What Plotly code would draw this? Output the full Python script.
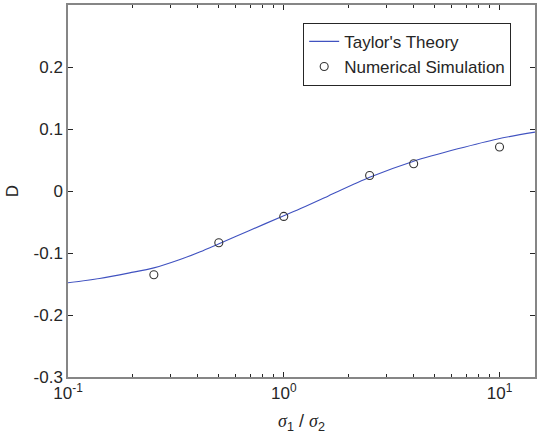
import plotly.graph_objects as go

# Taylor's theory curve
theory_x = [0.1, 0.14, 0.193, 0.25, 0.328, 0.41, 0.501, 0.69, 1.0, 1.17, 1.61, 2.5, 4.0, 6.4, 9.8, 14.6]
theory_y = [-0.148, -0.141, -0.132, -0.124, -0.111, -0.098, -0.085, -0.064, -0.040, -0.030, -0.008, 0.022, 0.048, 0.068, 0.084, 0.095]

# Numerical simulation points
sim_x = [0.25, 0.5, 1.0, 2.5, 4.0, 10.0]
sim_y = [-0.135, -0.0835, -0.041, 0.025, 0.044, 0.071]

x_major = [0.1, 1, 10]
x_major_text = ["10<sup>-1</sup>", "10<sup>0</sup>", "10<sup>1</sup>"]
x_minor = [0.2, 0.3, 0.4, 0.5, 0.6, 0.7, 0.8, 0.9, 2, 3, 4, 5, 6, 7, 8, 9]
y_ticks = [-0.3, -0.2, -0.1, 0, 0.1, 0.2]
y_tick_text = ["-0.3", "-0.2", "-0.1", "0", "0.1", "0.2"]

FONT = "Liberation Sans, Arial, sans-serif"
AX = "#868686"
TXT = "#262626"

sig = "<span style='font-family:Liberation Serif'><i>σ</i></span>"
xlabel = sig + "<sub>1</sub> / " + sig + "<sub>2</sub>"

fig = go.Figure()
fig.add_trace(go.Scatter(
    x=theory_x, y=theory_y, mode="lines", name="Taylor's Theory",
    line=dict(color="#4052c0", width=1.1, shape="spline", smoothing=0.8),
))
fig.add_trace(go.Scatter(
    x=sim_x, y=sim_y, mode="markers", name="Numerical Simulation",
    marker=dict(symbol="circle-open", size=8, color="#333333", line=dict(width=1.1, color="#333333")),
))

fig.update_layout(
    width=538, height=441,
    margin=dict(l=68, r=1, t=5, b=64),
    paper_bgcolor="white", plot_bgcolor="white",
    font=dict(family=FONT, size=17, color=TXT),
    showlegend=True,
    legend=dict(
        x=0.949, y=0.952, xanchor="right", yanchor="top",
        bgcolor="white", bordercolor="#262626", borderwidth=1,
        font=dict(family=FONT, size=17, color=TXT),
        tracegroupgap=0, itemwidth=30,
    ),
    xaxis=dict(
        type="log", range=[-1, 1.1644],
        tickvals=x_major, ticktext=x_major_text,
        ticks="inside", ticklen=5, tickcolor=TXT, tickwidth=1,
        minor=dict(tickvals=x_minor, ticks="inside", ticklen=3, tickcolor=TXT, tickwidth=1),
        showline=True, linecolor=AX, linewidth=1.5, mirror="ticks",
        showgrid=False, zeroline=False,
        tickfont=dict(family=FONT, size=17, color=TXT),
        title=dict(text=xlabel, standoff=12,
                   font=dict(family=FONT, size=18, color=TXT)),
    ),
    yaxis=dict(
        range=[-0.3, 0.3],
        tickvals=y_ticks, ticktext=y_tick_text,
        ticks="inside", ticklen=5, tickcolor=TXT, tickwidth=1,
        showline=True, linecolor=AX, linewidth=1.5, mirror="ticks",
        showgrid=False, zeroline=False,
        tickfont=dict(family=FONT, size=17, color=TXT),
        title=dict(text="D", standoff=11, font=dict(family=FONT, size=17, color=TXT)),
    ),
)

fig.write_html("out.html", config={"displayModeBar": False},
               post_script="document.body.style.margin='0';")
